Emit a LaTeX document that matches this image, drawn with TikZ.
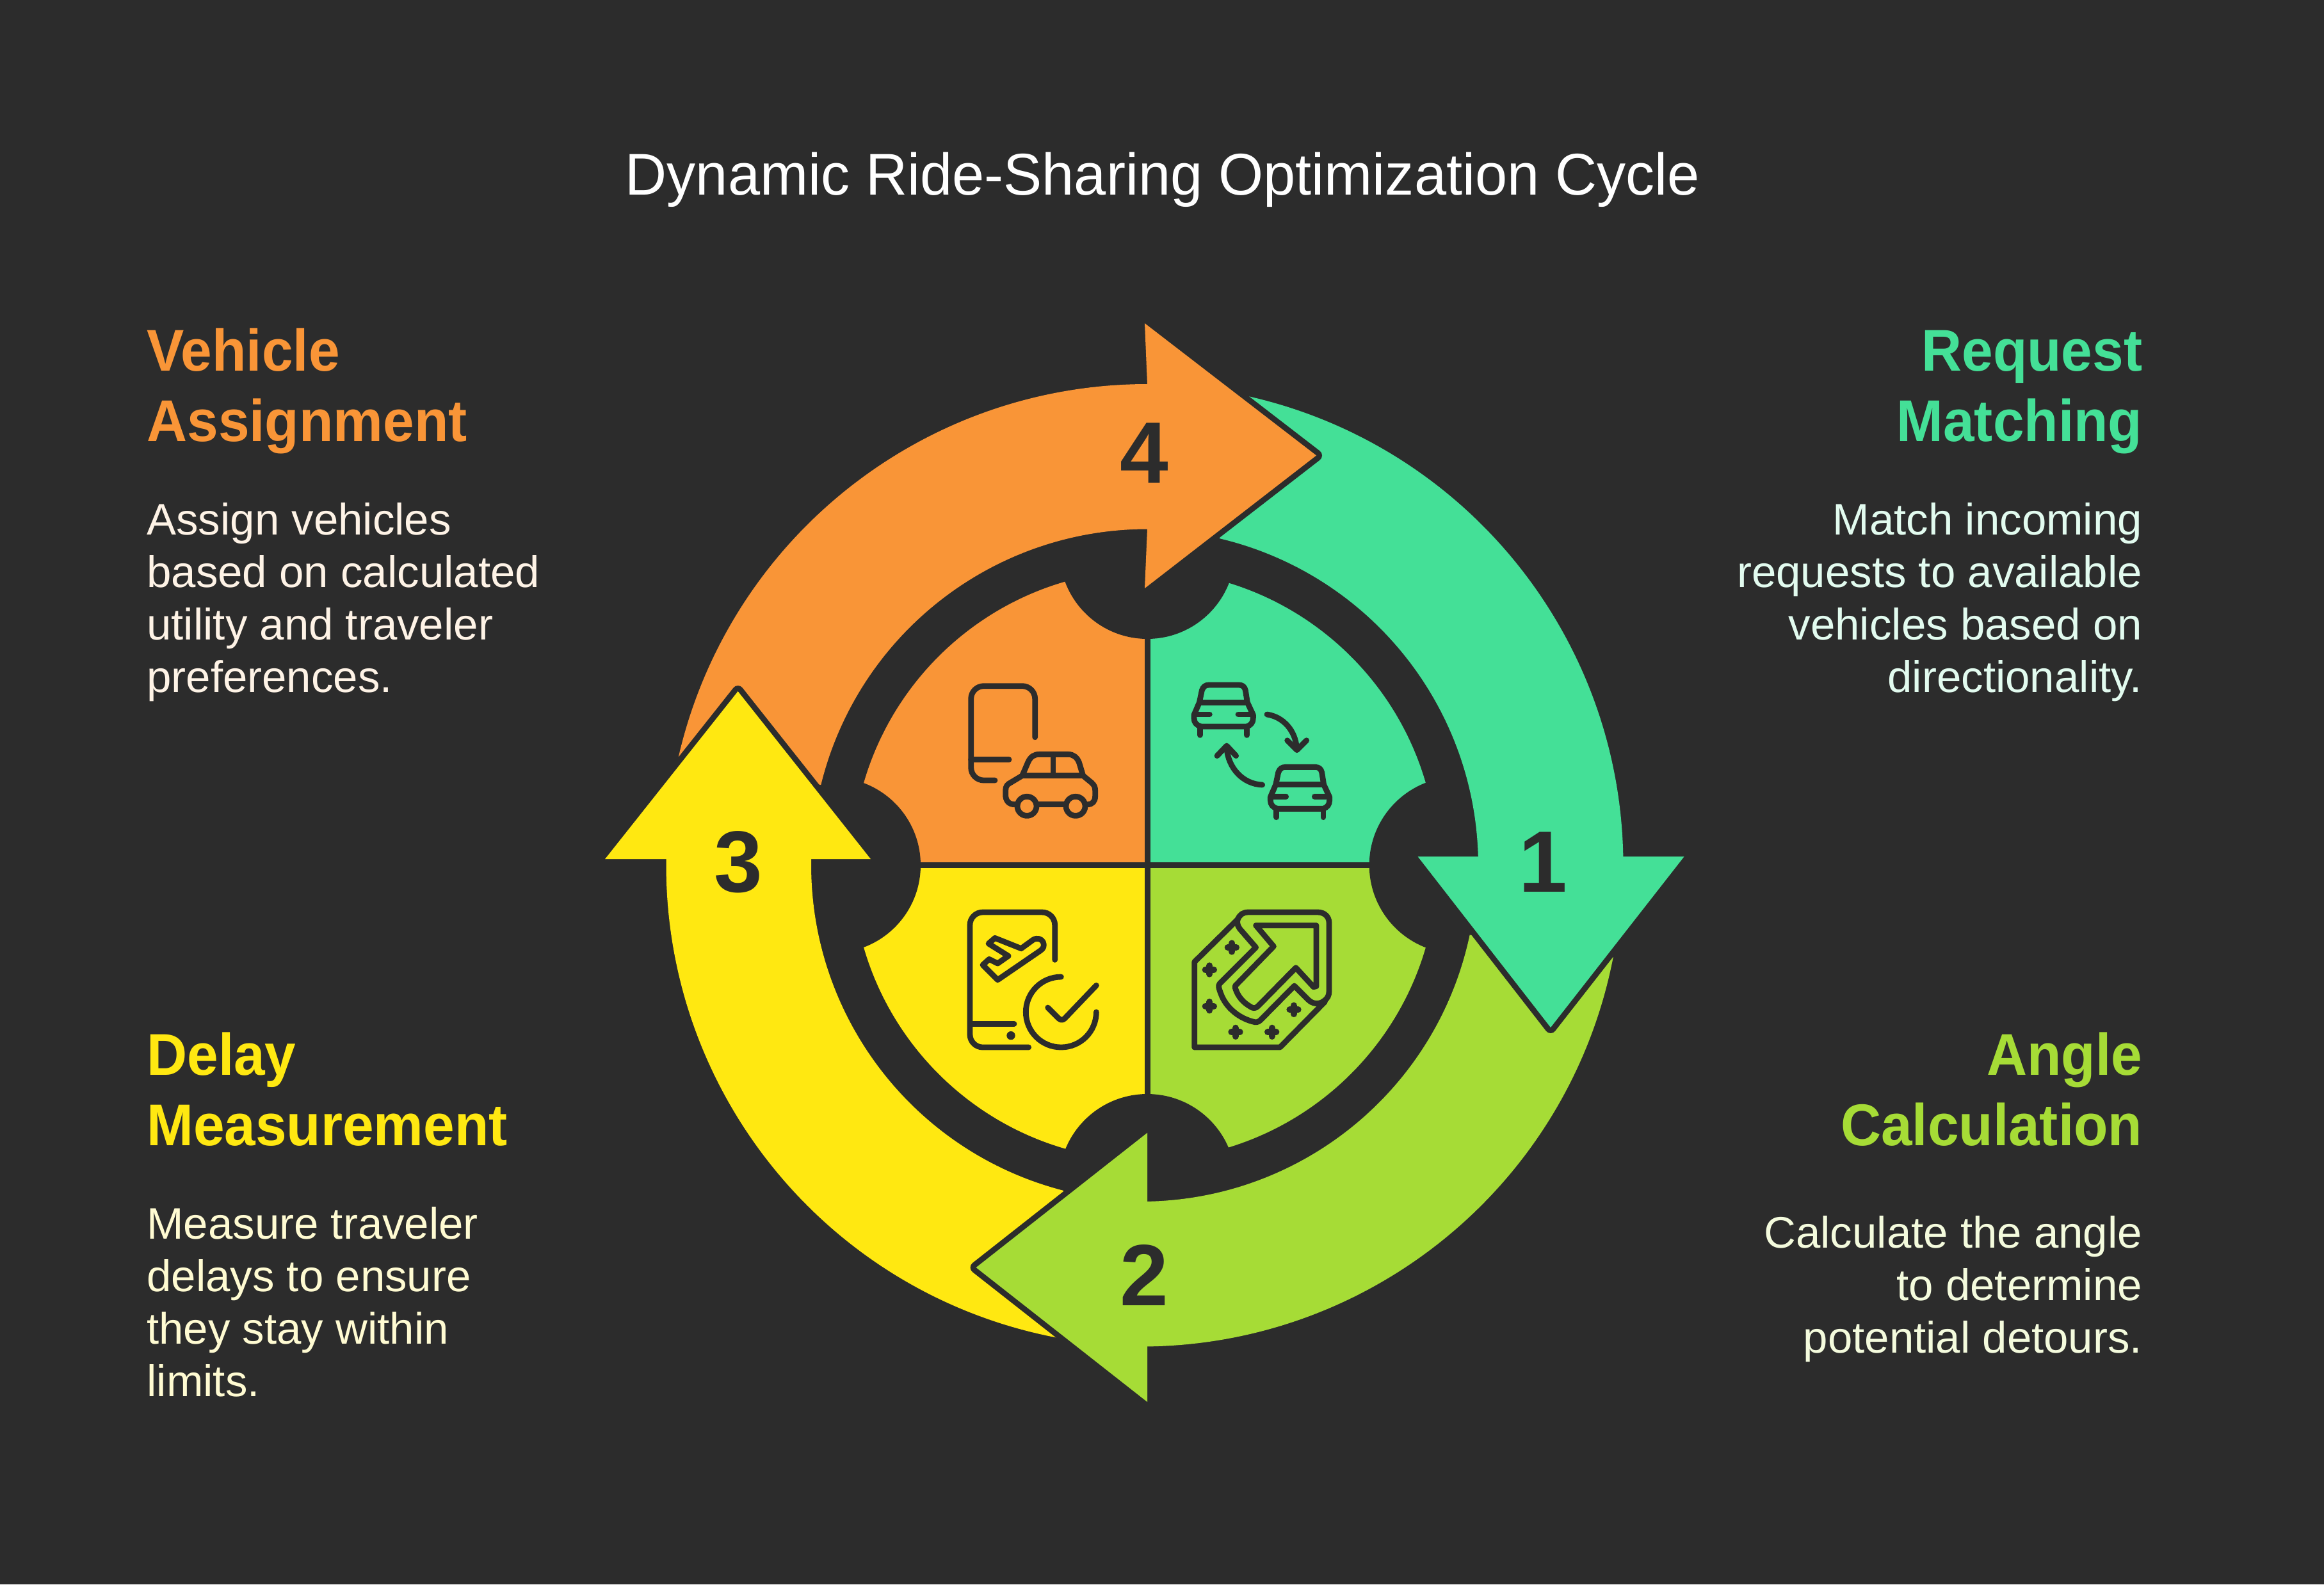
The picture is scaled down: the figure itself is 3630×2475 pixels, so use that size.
\documentclass[tikz,border=0pt]{standalone}
\usepackage{fontspec}
\setmainfont{Liberation Sans}
\newfontfamily\headfont[FakeStretch=0.95]{Liberation Sans}
\newfontfamily\titlefont[FakeStretch=0.98]{Liberation Sans}
\definecolor{bg}{HTML}{2C2C2C}
\definecolor{cora}{HTML}{F99537}
\definecolor{cgre}{HTML}{44E097}
\definecolor{clim}{HTML}{A6DC36}
\definecolor{cyel}{HTML}{FFE811}
\definecolor{torg}{HTML}{FEF3E6}
\definecolor{tgre}{HTML}{E2FBEF}
\definecolor{tlim}{HTML}{F4FBDD}
\definecolor{tyel}{HTML}{FFFBD2}
\tikzset{
  headedge/.style={draw=bg,line width=9pt,line join=round},
  iconline/.style={draw=bg,line width=4.4pt,line cap=round,line join=round},
  numlabel/.style={text=bg,font=\fontsize{68}{68}\selectfont\bfseries,inner sep=0pt},
  titletext/.style={text=white,font=\titlefont\fontsize{46}{55}\selectfont,inner sep=0pt},
  headleft/.style={anchor=base west,align=left,inner sep=0pt,font=\headfont\fontsize{46}{55}\selectfont\bfseries},
  headright/.style={anchor=base east,align=right,inner sep=0pt,font=\headfont\fontsize{46}{55}\selectfont\bfseries},
  bodyleft/.style={anchor=base west,align=left,inner sep=0pt,font=\fontsize{34.5}{41}\selectfont},
  bodyright/.style={anchor=base east,align=right,inner sep=0pt,font=\fontsize{34.5}{41}\selectfont},
}
% colour, cx, cy, outer start, outer end, inner end, inner start
\newcommand\bandshape[7]{\fill[#1] ([shift={(#4:751.5)}]#2,#3) arc[start angle=#4,end angle=#5,radius=751.5]
  -- ([shift={(#6:525)}]#2,#3) arc[start angle=#6,end angle=#7,radius=525] -- cycle;}
\newcommand\pieshape[4]{\fill[#1] (#3,1351.5) -- ([shift={(#2:461)}]#3,1351.5) arc[start angle=#2,end angle=#4,radius=461] -- cycle;}
\begin{document}
\begin{tikzpicture}[x=0.5pt,y=-0.5pt]
\useasboundingbox (0,0) rectangle (3630,2475);
\fill[bg] (0,0) rectangle (3630,2475);

% inner pie
\pieshape{cgre}{270}{1784}{360}
\pieshape{clim}{0}{1784}{90}
\pieshape{cyel}{90}{1792}{180}
\pieshape{cora}{180}{1792}{270}
\fill[bg] (1792,861) circle[radius=137];
\fill[bg] (2276.7,1351.5) circle[radius=138];
\fill[bg] (1792,1847) circle[radius=138];
\fill[bg] (1301,1351.5) circle[radius=137];
\draw[bg,line width=4.5pt] (1792,960) -- (1792,1740);
\draw[bg,line width=4.5pt] (1400,1351.5) -- (2180,1351.5);

% arrow bands
\bandshape{cora}{1792}{1351.5}{193.03}{270}{270}{193.82}
\bandshape{cgre}{1784}{1352}{282.67}{358.93}{358.47}{283.32}
\bandshape{clim}{1782}{1352}{10.96}{89.24}{88.91}{11.92}
\bandshape{cyel}{1792}{1351.5}{100.87}{180.72}{181.04}{104.46}

% arrow heads
\draw[headedge] (1788,505) -- (2056,711.5) -- (1788,919);
\fill[cora] (1792,600) -- (1788,505) -- (2056,711.5) -- (1788,919) -- (1792,826.5) -- cycle;
\draw[headedge] (2214.5,1338) -- (2422,1605) -- (2630.6,1338);
\fill[cgre] (2214.5,1338) -- (2422,1605) -- (2630.6,1338) -- cycle;
\draw[headedge] (1792,1769.6) -- (1524.6,1980) -- (1792,2190);
\fill[clim] (1792,1769.6) -- (1524.6,1980) -- (1792,2190) -- cycle;
\draw[headedge] (945,1342) -- (1152.6,1080) -- (1360,1342);
\fill[cyel] (945,1342) -- (1152.6,1080) -- (1360,1342) -- cycle;

% numbers
\node[numlabel] (n1) at (2410,1347) {1};
\node[numlabel] (n2) at (1787,1992) {2};
\node[numlabel] (n3) at (1153,1347) {3};
\node[numlabel] (n4) at (1787,708) {4};

% icon: phone and car (orange)
\begin{scope}[shift={(1450,1030)},x=0.16667pt,y=-0.16667pt]
\draw[iconline,rounded corners=10pt] (500,365) -- (500,125) -- (200,125) -- (200,567) -- (312,567);
\draw[iconline] (200,470) -- (378,470);
\draw[iconline] (405,680) .. controls (375,680) and (362,660) .. (362,635) -- (362,615) .. controls (362,595) and (370,585) .. (385,578)
  -- (440,545) -- (468,480) .. controls (480,455) and (497,445) .. (520,445) -- (655,445) .. controls (680,445) and (698,460) .. (707,485)
  -- (725,545) -- (765,578) .. controls (778,590) and (782,600) .. (782,615) -- (782,640) .. controls (782,665) and (770,680) .. (745,680);
\draw[iconline] (440,545) -- (725,545);
\draw[iconline] (585,445) -- (585,545);
\draw[iconline] (510,680) -- (640,680);
\draw[iconline] (462,688) circle[radius=45];
\draw[iconline] (690,688) circle[radius=45];
\end{scope}

% icon: two cars swapping (green)
\begin{scope}[shift={(1840,1040)},x=0.16667pt,y=-0.16667pt]
\foreach \dx/\dy in {0/0,358/385}{
\begin{scope}[xshift=\dx*0.16667pt,yshift=-\dy*0.16667pt]
\draw[iconline] (110,285) .. controls (85,280) and (75,265) .. (75,245) -- (75,230) -- (100,172) -- (112,115) .. controls (118,98) and (128,90) .. (145,90)
  -- (285,90) .. controls (302,90) and (312,98) .. (316,115) -- (325,172) -- (352,230) -- (352,245) .. controls (352,265) and (342,280) .. (320,285) -- cycle;
\draw[iconline] (100,172) -- (325,172);
\draw[iconline] (85,228) -- (148,228);
\draw[iconline] (282,228) -- (345,228);
\draw[iconline] (103,290) -- (103,325);
\draw[iconline] (323,290) -- (323,325);
\end{scope}}
\draw[iconline] (417,228) .. controls (495,240) and (550,305) .. (556,385);
\draw[iconline] (512,350) -- (557,395) -- (602,350);
\draw[iconline] (395,558) .. controls (305,555) and (235,480) .. (228,385);
\draw[iconline] (183,422) -- (228,375) -- (272,422);
\end{scope}

% icon: map with arrow (lime)
\begin{scope}[shift={(1840,1400)},x=0.16667pt,y=-0.16667pt]
\draw[iconline] (280,108) -- (77,308) -- (77,708) -- (478,708) -- (688,495);
\draw[iconline] (280,108) .. controls (272,130) and (285,150) .. (300,165) -- (365,240) -- (195,410) .. controls (185,420) and (195,440) .. (200,455)
  .. controls (225,525) and (290,575) .. (360,590) .. controls (375,592) and (382,585) .. (392,575) -- (545,420) -- (610,485) .. controls (630,505) and (660,510) .. (685,490)
  .. controls (700,480) and (708,465) .. (708,445) -- (708,125) .. controls (708,95) and (685,75) .. (655,75) -- (330,75) .. controls (305,75) and (290,85) .. (280,108) -- cycle;
\draw[iconline] (365,137) -- (648,137) -- (648,422) -- (635,425) -- (552,335) -- (375,515) .. controls (362,528) and (350,525) .. (340,518)
  .. controls (305,498) and (280,470) .. (268,430) -- (268,420) -- (448,235) -- cycle;
\foreach \px/\py in {253/240,148/345,148/515,270/637,440/637,543/532}{
  \draw[iconline,line width=5pt] (\px-20,\py) -- (\px+20,\py) (\px,\py-20) -- (\px,\py+20);
}
\end{scope}

% icon: phone, plane, check (yellow)
\begin{scope}[shift={(1480,1400)},x=0.16667pt,y=-0.16667pt]
\draw[iconline,rounded corners=10pt] (503,298) -- (503,75) -- (105,75) -- (105,708) -- (380,708);
\draw[iconline] (108,598) -- (312,598);
\fill[bg] (297,653) circle[radius=20];
\draw[iconline] (532,378) arc[start angle=270,end angle=0,radius=165];
\draw[iconline] (470,522) -- (520,572) .. controls (530,582) and (540,582) .. (550,572) -- (697,418);
\draw[iconline] (222,196) -- (345,245) -- (400,205) .. controls (420,192) and (440,200) .. (448,215) .. controls (455,232) and (450,245) .. (435,255)
  -- (235,392) -- (165,322) -- (195,295) -- (235,315) -- (285,280) -- (192,222) -- cycle;
\end{scope}

% texts
\node[titletext] (title) at (1816,281) {Dynamic Ride-Sharing Optimization Cycle};

\node[headleft,text=cora] (h4) at (229,689) {Vehicle\\Assignment};
\node[bodyleft,text=torg] (b4) at (229,1081) {Assign vehicles\\based on calculated\\utility and traveler\\preferences.};
\node[headright,text=cgre] (h1) at (3346.5,689) {Request\\Matching};
\node[bodyright,text=tgre] (b1) at (3346.5,1081) {Match incoming\\requests to available\\vehicles based on\\directionality.};
\node[headleft,text=cyel] (h3) at (229,1789) {Delay\\Measurement};
\node[bodyleft,text=tyel] (b3) at (229,2181) {Measure traveler\\delays to ensure\\they stay within\\limits.};
\node[headright,text=clim] (h2) at (3346.5,1789) {Angle\\Calculation};
\node[bodyright,text=tlim] (b2) at (3346.5,2113) {Calculate the angle\\to determine\\potential detours.};
\end{tikzpicture}
\end{document}
